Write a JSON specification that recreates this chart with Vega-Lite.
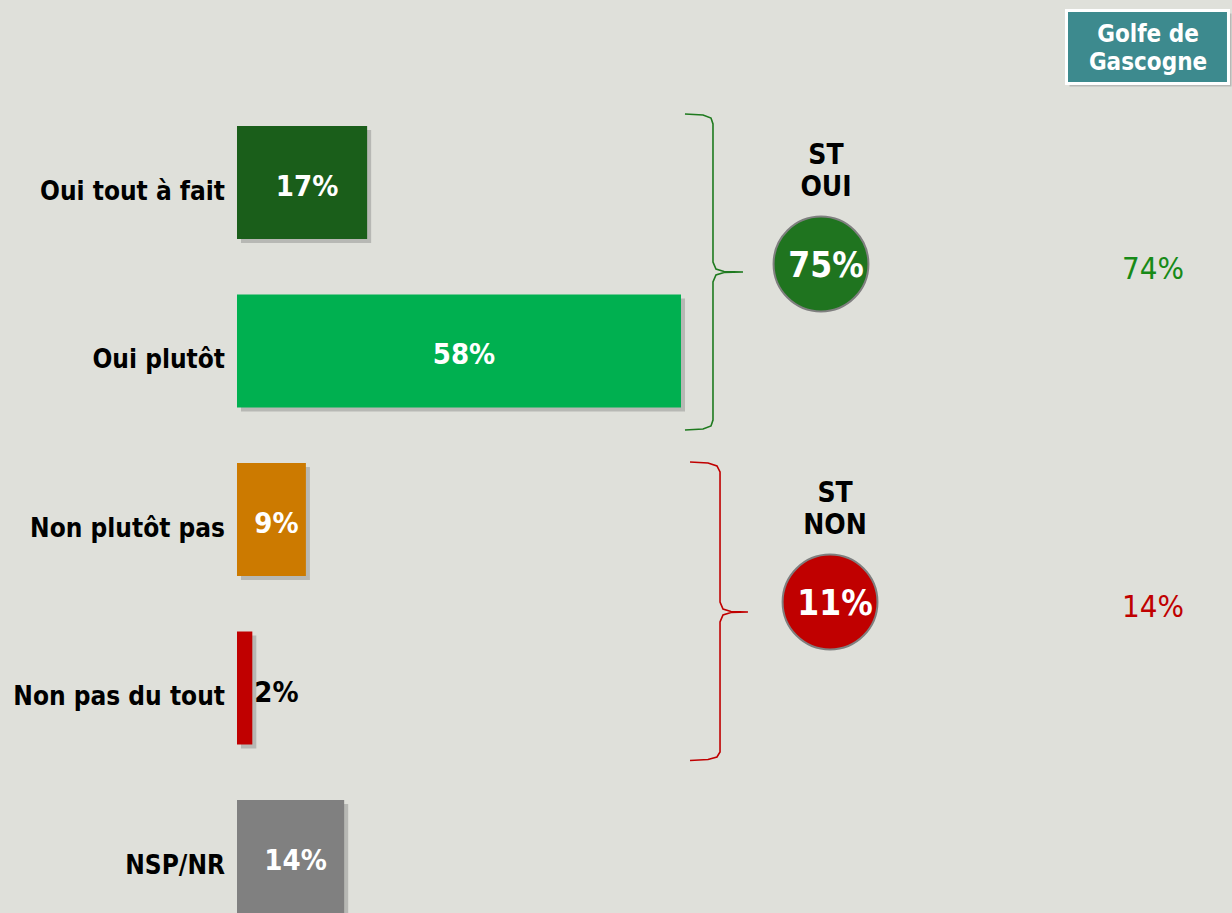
{
  "$schema": "https://vega.github.io/schema/vega-lite/v6.json",
  "width": 1232,
  "height": 913,
  "autosize": {"type": "none"},
  "padding": 0,
  "background": "#dfe0da",
  "config": {"view": {"stroke": null}, "font": "DejaVu Sans Condensed, DejaVu Sans"},
  "datasets": {
    "answers": [
      {"row": 1, "label": "Oui tout à fait", "share": 0.17},
      {"row": 2, "label": "Oui plutôt", "share": 0.58},
      {"row": 3, "label": "Non plutôt pas", "share": 0.09},
      {"row": 4, "label": "Non pas du tout", "share": 0.02},
      {"row": 5, "label": "NSP/NR", "share": 0.14}
    ],
    "totals": [
      {"grp": "OUI", "head": "ST\nOUI", "xpos": 0.7629, "row": 1.4837, "share": 0.75, "prev": 0.74},
      {"grp": "NON", "head": "ST\nNON", "xpos": 0.7747, "row": 3.4896, "share": 0.11, "prev": 0.14}
    ],
    "brace": [
      {"grp": "OUI", "i": 1, "x": 0.5852, "y": 0.5935},
      {"grp": "OUI", "i": 2, "x": 0.6088, "y": 0.5994},
      {"grp": "OUI", "i": 3, "x": 0.6192, "y": 0.6172},
      {"grp": "OUI", "i": 4, "x": 0.6218, "y": 0.6528},
      {"grp": "OUI", "i": 5, "x": 0.6218, "y": 1.4718},
      {"grp": "OUI", "i": 6, "x": 0.6257, "y": 1.5134},
      {"grp": "OUI", "i": 7, "x": 0.6362, "y": 1.5282},
      {"grp": "OUI", "i": 8, "x": 0.6610, "y": 1.5312},
      {"grp": "OUI", "i": 9, "x": 0.6362, "y": 1.5341},
      {"grp": "OUI", "i": 10, "x": 0.6257, "y": 1.5490},
      {"grp": "OUI", "i": 11, "x": 0.6218, "y": 1.5905},
      {"grp": "OUI", "i": 12, "x": 0.6218, "y": 2.4095},
      {"grp": "OUI", "i": 13, "x": 0.6192, "y": 2.4451},
      {"grp": "OUI", "i": 14, "x": 0.6088, "y": 2.4629},
      {"grp": "OUI", "i": 15, "x": 0.5852, "y": 2.4688},
      {"grp": "NON", "i": 1, "x": 0.5918, "y": 2.6588},
      {"grp": "NON", "i": 2, "x": 0.6153, "y": 2.6647},
      {"grp": "NON", "i": 3, "x": 0.6270, "y": 2.6825},
      {"grp": "NON", "i": 4, "x": 0.6310, "y": 2.7181},
      {"grp": "NON", "i": 5, "x": 0.6310, "y": 3.4896},
      {"grp": "NON", "i": 6, "x": 0.6349, "y": 3.5312},
      {"grp": "NON", "i": 7, "x": 0.6453, "y": 3.5460},
      {"grp": "NON", "i": 8, "x": 0.6675, "y": 3.5490},
      {"grp": "NON", "i": 9, "x": 0.6453, "y": 3.5519},
      {"grp": "NON", "i": 10, "x": 0.6349, "y": 3.5668},
      {"grp": "NON", "i": 11, "x": 0.6310, "y": 3.6083},
      {"grp": "NON", "i": 12, "x": 0.6310, "y": 4.3798},
      {"grp": "NON", "i": 13, "x": 0.6270, "y": 4.4095},
      {"grp": "NON", "i": 14, "x": 0.6153, "y": 4.4243},
      {"grp": "NON", "i": 15, "x": 0.5918, "y": 4.4303}
    ]
  },
  "resolve": {"scale": {"x": "independent", "color": "independent"}},
  "layer": [
    {
      "data": {"name": "answers"},
      "mark": {"type": "bar", "orient": "horizontal", "size": 113, "color": "#6e6e6e", "opacity": 0.35, "xOffset": 4, "x2Offset": 4, "yOffset": 4},
      "encoding": {
        "x": {"field": "share", "type": "quantitative", "scale": {"domain": [-0.3096, 1.2998], "nice": false, "zero": false}, "axis": null},
        "x2": {"datum": 0},
        "y": {"field": "row", "type": "quantitative", "scale": {"domain": [-0.0831, 5.3353], "reverse": true, "nice": false, "zero": false, "padding": 0}, "axis": null}
      }
    },
    {
      "data": {"name": "answers"},
      "mark": {"type": "bar", "orient": "horizontal", "size": 113},
      "encoding": {
        "x": {"field": "share", "type": "quantitative", "scale": {"domain": [-0.3096, 1.2998], "nice": false, "zero": false}, "axis": null},
        "x2": {"datum": 0},
        "y": {"field": "row", "type": "quantitative", "axis": null},
        "color": {"field": "label", "type": "nominal", "legend": null,
          "scale": {"domain": ["Oui tout à fait", "Oui plutôt", "Non plutôt pas", "Non pas du tout", "NSP/NR"],
                    "range": ["#1a5e1a", "#00b050", "#cc7a00", "#c00000", "#808080"]}}
      }
    },
    {
      "data": {"name": "answers"},
      "mark": {"type": "text", "align": "right", "baseline": "middle", "dx": -12, "dy": 9, "fontSize": 26, "fontWeight": "bold", "color": "#000000"},
      "encoding": {
        "x": {"datum": 0, "type": "quantitative", "scale": {"domain": [-0.3096, 1.2998], "nice": false, "zero": false}, "axis": null},
        "y": {"field": "row", "type": "quantitative", "axis": null},
        "text": {"field": "label"}
      }
    },
    {
      "data": {"name": "answers"},
      "transform": [{"filter": "datum.share >= 0.05"}],
      "mark": {"type": "text", "align": "center", "baseline": "middle", "dx": 5, "dy": 4, "fontSize": 29, "fontWeight": "bold", "color": "#ffffff"},
      "encoding": {
        "x": {"field": "share", "type": "quantitative", "scale": {"domain": [-0.6192, 2.5996], "nice": false, "zero": false}, "axis": null},
        "y": {"field": "row", "type": "quantitative", "axis": null},
        "text": {"field": "share", "type": "quantitative", "format": ".0%"}
      }
    },
    {
      "data": {"name": "answers"},
      "transform": [{"filter": "datum.share < 0.05"}],
      "mark": {"type": "text", "align": "left", "baseline": "middle", "dx": 2, "dy": 5, "fontSize": 29, "fontWeight": "bold", "color": "#000000"},
      "encoding": {
        "x": {"field": "share", "type": "quantitative", "scale": {"domain": [-0.3096, 1.2998], "nice": false, "zero": false}, "axis": null},
        "y": {"field": "row", "type": "quantitative", "axis": null},
        "text": {"field": "share", "type": "quantitative", "format": ".0%"}
      }
    },
    {
      "data": {"name": "brace"},
      "mark": {"type": "line", "strokeWidth": 1.6, "interpolate": "linear"},
      "encoding": {
        "x": {"field": "x", "type": "quantitative", "scale": {"domain": [-0.3096, 1.2998], "nice": false, "zero": false}, "axis": null},
        "y": {"field": "y", "type": "quantitative", "axis": null},
        "order": {"field": "i", "type": "quantitative"},
        "color": {"field": "grp", "type": "nominal", "legend": null, "scale": {"domain": ["OUI", "NON"], "range": ["#1f7a1f", "#c00000"]}}
      }
    },
    {
      "data": {"name": "totals"},
      "mark": {"type": "point", "shape": "circle", "filled": true, "size": 9000, "stroke": "#7f7f7f", "strokeWidth": 2, "opacity": 1},
      "encoding": {
        "x": {"field": "xpos", "type": "quantitative", "scale": {"domain": [-0.3096, 1.2998], "nice": false, "zero": false}, "axis": null},
        "y": {"field": "row", "type": "quantitative", "axis": null},
        "fill": {"field": "grp", "type": "nominal", "legend": null, "scale": {"domain": ["OUI", "NON"], "range": ["#1f741f", "#c00000"]}}
      }
    },
    {
      "data": {"name": "totals"},
      "mark": {"type": "text", "align": "center", "baseline": "middle", "dx": 5, "dy": 2, "fontSize": 35, "fontWeight": "bold", "color": "#ffffff"},
      "encoding": {
        "x": {"field": "xpos", "type": "quantitative", "scale": {"domain": [-0.3096, 1.2998], "nice": false, "zero": false}, "axis": null},
        "y": {"field": "row", "type": "quantitative", "axis": null},
        "text": {"field": "share", "type": "quantitative", "format": ".0%"}
      }
    },
    {
      "data": {"name": "totals"},
      "mark": {"type": "text", "align": "center", "baseline": "middle", "dx": 5, "dy": -108, "fontSize": 28, "fontWeight": "bold", "color": "#000000", "lineBreak": "\n", "lineHeight": 32},
      "encoding": {
        "x": {"field": "xpos", "type": "quantitative", "scale": {"domain": [-0.3096, 1.2998], "nice": false, "zero": false}, "axis": null},
        "y": {"field": "row", "type": "quantitative", "axis": null},
        "text": {"field": "head"}
      }
    },
    {
      "data": {"name": "totals"},
      "mark": {"type": "text", "align": "center", "baseline": "middle", "dy": 6, "fontSize": 31, "fontWeight": "normal"},
      "encoding": {
        "x": {"datum": 1.1966, "type": "quantitative", "scale": {"domain": [-0.3096, 1.2998], "nice": false, "zero": false}, "axis": null},
        "y": {"field": "row", "type": "quantitative", "axis": null},
        "text": {"field": "prev", "type": "quantitative", "format": ".0%"},
        "color": {"field": "grp", "type": "nominal", "legend": null, "scale": {"domain": ["OUI", "NON"], "range": ["#178a17", "#c00000"]}}
      }
    },
    {
      "data": {"values": [{"region": "Golfe de Gascogne"}]},
      "mark": {"type": "rect", "color": "#8a8a8a", "opacity": 0.45, "xOffset": 3, "x2Offset": 3, "yOffset": 3, "y2Offset": 3},
      "encoding": {
        "x": {"datum": 1.0836, "type": "quantitative", "scale": {"domain": [-0.3096, 1.2998], "nice": false, "zero": false}, "axis": null},
        "x2": {"datum": 1.2952},
        "y": {"datum": -0.0208, "type": "quantitative", "axis": null},
        "y2": {"datum": 0.4125}
      }
    },
    {
      "data": {"values": [{"region": "Golfe de Gascogne"}]},
      "mark": {"type": "rect", "color": "#3d8a8e", "stroke": "#ffffff", "strokeWidth": 3},
      "encoding": {
        "x": {"datum": 1.0836, "type": "quantitative", "scale": {"domain": [-0.3096, 1.2998], "nice": false, "zero": false}, "axis": null},
        "x2": {"datum": 1.2952},
        "y": {"datum": -0.0208, "type": "quantitative", "axis": null},
        "y2": {"datum": 0.4125}
      }
    },
    {
      "data": {"values": [{"region": "Golfe de Gascogne"}]},
      "mark": {"type": "text", "align": "center", "baseline": "middle", "fontSize": 24, "fontWeight": "bold", "color": "#ffffff", "lineHeight": 28},
      "encoding": {
        "x": {"datum": 1.1901, "type": "quantitative", "scale": {"domain": [-0.3096, 1.2998], "nice": false, "zero": false}, "axis": null},
        "y": {"datum": 0.1246, "type": "quantitative", "axis": null},
        "text": {"value": ["Golfe de", "Gascogne"]}
      }
    }
  ]
}
